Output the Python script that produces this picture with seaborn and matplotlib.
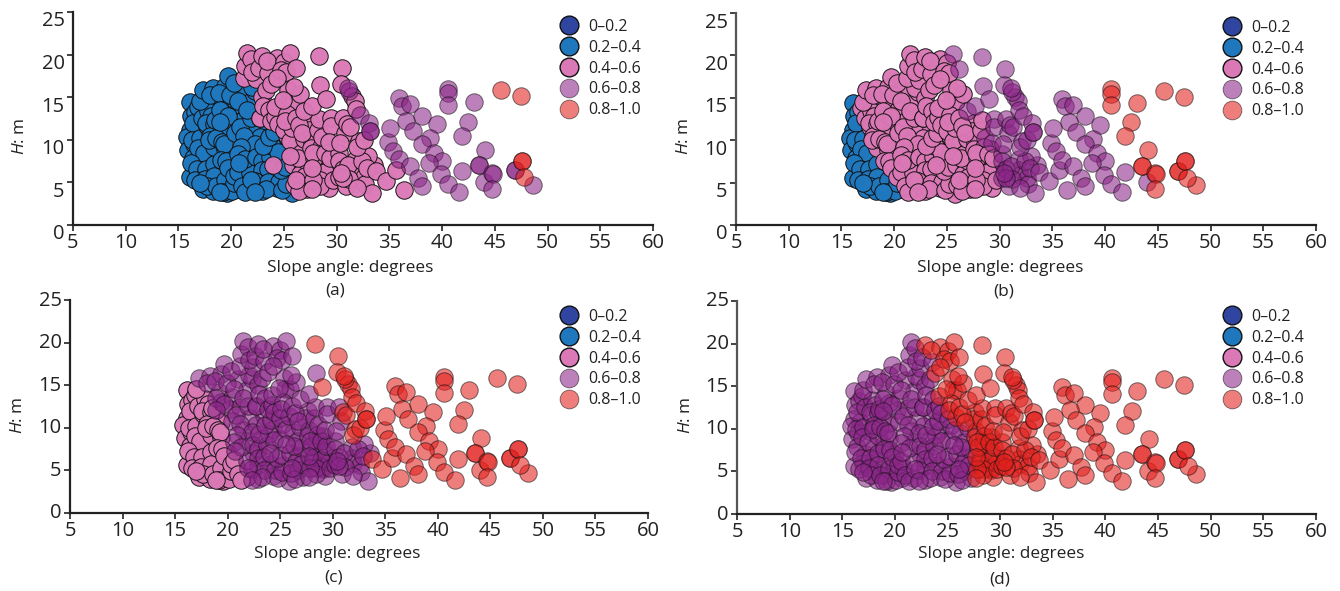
#!/usr/bin/env python3
"""Slope angle vs H scatter, four panels with a shared set of slopes."""
import matplotlib
matplotlib.use("Agg")
import matplotlib.pyplot as plt
import pandas as pd
import seaborn as sns
from matplotlib.lines import Line2D
from matplotlib.transforms import ScaledTranslation

CLASSES = ["0–0.2", "0.2–0.4", "0.4–0.6", "0.6–0.8", "0.8–1.0"]
COLORS = ["#2F459F", "#1F78BE", "#DB78B6", "#8C2689", "#E3211E"]
ALPHAS = [1.0, 1.0, 0.97, 0.58, 0.58]
PANELS = ["a", "b", "c", "d"]

# (slope, H), grouped by how they change class across panels
zone1 = [(16.1, 14.4), (16.2, 12.8), (16.1, 11.2), (16.7, 10.8), (15.8, 10.3), (15.9, 8.8), (16.5, 9.5),
         (17.5, 9.7), (16.4, 7.9), (17.2, 7.1), (18.0, 7.9), (18.9, 8.1), (16.1, 5.6), (17.0, 6.0),
         (18.0, 6.5), (18.9, 5.6), (19.9, 6.0), (18.0, 5.0), (19.0, 4.6), (17.3, 4.2), (18.3, 4.0),
         (19.6, 3.8), (20.7, 4.2), (16.6, 13.3), (16.4, 12.0), (16.3, 10.0), (17.0, 10.2), (16.9, 9.0),
         (17.4, 8.5), (16.2, 7.3), (16.8, 6.6), (17.6, 6.6), (18.4, 7.2), (16.6, 5.3), (17.5, 5.4),
         (18.4, 5.7), (17.7, 4.6), (18.6, 4.6), (19.4, 5.3), (19.2, 3.9), (20.1, 4.0), (20.3, 4.9),
         (17.0, 4.9), (18.9, 3.9)]
zone2 = [(16.9, 13.8), (17.2, 12.6), (17.8, 13.4), (18.1, 12.8), (17.7, 11.6), (18.8, 11.2), (18.4, 9.1),
         (19.4, 8.9), (20.0, 7.1), (19.4, 10.7), (20.8, 5.4), (21.8, 4.2), (17.0, 14.5), (17.6, 12.0),
         (18.4, 11.9), (18.0, 10.5), (17.9, 10.0), (18.6, 10.2), (19.1, 9.8), (19.3, 9.5), (19.0, 7.6),
         (19.5, 7.5), (19.7, 6.7), (20.3, 5.7), (20.6, 6.2), (21.0, 4.6), (21.3, 3.9), (18.5, 12.3)]
zone3 = [(17.3, 15.9), (18.3, 16.1), (19.4, 16.3), (18.0, 15.3), (19.7, 17.5), (21.0, 15.7), (19.2, 14.2),
         (20.4, 13.6), (21.8, 14.4), (20.2, 12.2), (21.2, 12.4), (22.1, 11.2), (23.5, 11.4), (20.4, 10.8),
         (21.5, 9.7), (22.7, 10.3), (24.3, 9.9), (21.8, 8.5), (23.2, 8.7), (22.4, 7.1), (21.8, 6.1),
         (22.9, 5.6), (24.0, 5.8), (25.3, 5.6), (22.9, 4.0), (24.3, 4.4), (25.8, 3.7), (25.0, 8.7),
         (22.3, 15.7), (18.8, 15.5), (19.9, 15.3), (20.3, 16.7), (20.6, 14.6), (19.4, 13.0), (18.9, 13.5),
         (19.7, 12.8), (18.9, 12.1), (20.8, 11.5), (21.9, 12.6), (21.5, 13.5), (21.2, 10.5), (22.3, 9.5),
         (20.9, 9.2), (20.6, 8.3), (21.3, 7.7), (20.7, 7.3), (22.4, 8.0), (22.9, 7.5), (23.7, 8.0),
         (23.9, 9.3), (24.4, 8.6), (23.0, 9.3), (23.6, 10.3), (24.1, 10.9), (22.9, 6.5), (23.5, 6.6),
         (22.3, 5.2), (23.5, 5.0), (24.5, 5.1), (21.9, 5.3), (23.3, 4.2), (24.8, 4.1), (25.2, 4.8),
         (22.3, 3.9), (24.7, 6.4), (25.1, 6.8), (22.0, 16.2)]
zone4 = [(24.0, 7.1), (25.9, 7.1), (21.2, 17.3), (22.7, 12.6), (22.7, 12.6), (22.4, 17.1), (22.9, 15.0),
         (21.3, 18.7), (21.5, 20.2), (25.3, 10.5), (26.2, 9.5), (26.8, 6.7), (26.5, 6.0), (27.2, 4.2),
         (26.7, 5.0), (21.9, 19.5), (22.0, 18.0), (22.6, 18.4), (23.5, 17.8), (23.3, 15.9), (23.0, 14.0),
         (23.6, 13.5), (23.8, 12.2), (24.2, 12.7), (24.4, 11.8), (25.0, 11.1), (25.6, 9.9), (26.6, 8.4),
         (27.0, 7.6), (26.3, 7.9), (26.9, 10.1), (26.0, 4.7), (26.4, 4.0), (27.0, 5.7), (25.6, 8.1),
         (26.1, 5.3)]
zone5 = [(22.9, 19.8), (24.3, 19.6), (23.4, 19.3), (25.0, 19.1), (23.8, 16.5), (25.4, 15.9), (25.5, 14.6),
         (25.9, 14.6), (24.2, 13.8), (25.3, 13.0), (25.8, 11.4), (27.6, 12.0), (27.4, 11.1), (27.7, 9.7),
         (27.6, 9.0), (29.1, 9.0), (28.5, 7.6), (28.1, 6.5), (28.1, 5.9), (28.1, 6.1), (29.2, 7.3), (29.9, 6.5),
         (29.1, 5.2), (29.1, 5.4), (29.3, 4.4), (28.4, 8.3), (29.6, 6.0), (27.9, 7.9), (24.7, 18.2),
         (25.2, 17.9), (24.3, 17.2), (26.5, 15.4), (26.0, 16.2), (24.9, 14.7), (25.1, 12.2), (26.1, 12.6),
         (26.4, 11.7), (26.7, 10.8), (28.2, 11.2), (28.3, 12.4), (28.5, 9.2), (27.8, 8.5), (28.9, 8.4),
         (28.9, 6.2), (28.4, 5.3), (28.4, 4.6), (27.8, 5.3), (27.7, 4.2), (27.7, 6.7), (29.4, 7.9), (29.7, 5.3)]
zone6 = [(28.4, 16.4), (25.6, 20.2), (26.1, 18.4), (26.9, 13.4), (27.7, 14.0), (28.6, 10.3), (30.2, 8.4),
         (30.2, 7.5), (29.5, 12.5), (29.5, 11.6), (30.8, 10.8), (30.2, 5.6), (30.9, 4.6), (31.8, 7.8),
         (31.8, 6.5), (31.9, 5.9), (32.6, 5.6), (33.5, 7.1), (33.0, 8.1), (32.7, 4.8), (33.4, 3.8),
         (29.3, 9.7), (30.3, 9.6), (30.6, 6.6), (31.1, 7.0), (31.2, 5.4), (31.9, 4.4), (32.4, 7.5),
         (32.9, 6.7), (30.6, 12.5), (30.6, 5.5), (30.4, 6.1)]
zone7 = [(28.3, 19.8), (30.5, 18.4), (30.4, 16.5), (29.0, 14.8), (31.5, 15.1), (31.7, 14.6), (31.8, 13.6),
         (31.0, 11.8), (32.1, 9.9), (31.9, 9.2), (31.3, 11.5), (33.7, 6.3), (34.7, 5.2), (35.6, 6.5),
         (36.4, 4.1), (32.6, 10.0)]
zone8 = [(31.2, 15.7), (31.1, 16.1), (32.2, 12.9), (33.1, 12.0), (33.2, 11.0), (33.2, 11.0), (34.9, 9.7),
         (35.3, 8.7), (35.9, 7.7), (35.9, 14.9), (36.2, 14.0), (37.0, 14.2), (38.1, 12.8), (36.6, 12.2),
         (35.1, 11.4), (37.2, 11.0), (39.5, 11.8), (38.9, 10.2), (38.1, 9.5), (39.2, 8.5), (40.0, 7.5),
         (38.8, 7.3), (37.0, 6.9), (37.7, 5.5), (38.1, 4.6), (39.9, 5.95), (40.6, 4.8), (41.6, 3.9),
         (41.9, 6.3), (44.0, 5.1)]
zone9 = [(40.6, 16.0), (40.6, 15.5), (40.6, 14.1), (43.0, 14.4), (42.5, 12.1), (41.9, 10.5), (44.1, 8.8),
         (43.5, 7.0), (43.5, 7.0), (44.7, 6.1), (44.8, 6.0), (44.7, 4.2), (46.9, 6.4), (46.9, 6.4), (48.6, 4.7)]
zone10 = [(45.6, 15.8), (47.5, 15.1), (47.6, 7.5), (47.6, 7.5), (47.8, 5.6)]

# class index of each zone in panels a, b, c, d
zone1_classes = [1, 1, 2, 3]
zone2_classes = [1, 2, 2, 3]
zone3_classes = [1, 2, 3, 3]
zone4_classes = [2, 2, 3, 3]
zone5_classes = [2, 2, 3, 4]
zone6_classes = [2, 3, 3, 4]
zone7_classes = [2, 3, 4, 4]
zone8_classes = [3, 3, 4, 4]
zone9_classes = [3, 4, 4, 4]
zone10_classes = [4, 4, 4, 4]

zones = [(zone1, zone1_classes), (zone2, zone2_classes), (zone3, zone3_classes), (zone4, zone4_classes),
         (zone5, zone5_classes), (zone6, zone6_classes), (zone7, zone7_classes), (zone8, zone8_classes),
         (zone9, zone9_classes), (zone10, zone10_classes)]

rows = []
for pts, cls in zones:
    for slope, h in pts:
        for panel, c in zip(PANELS, cls):
            rows.append({"panel": panel, "slope": slope, "h": h, "cls": c})
df = pd.DataFrame(rows)

W, H = 1340, 591
sns.set_theme(style="ticks")
plt.rcParams["font.family"] = ["Open Sans", "DejaVu Sans"]
plt.rcParams["mathtext.fontset"] = "custom"
plt.rcParams["mathtext.it"] = "Open Sans:italic"
plt.rcParams["mathtext.rm"] = "Open Sans"

# pixel layout per panel: left, right, bottom, top, ylabel xy, xlabel xy, letter xy, legend xy, ytick shift
layout = {
    "a": dict(box=(73, 653, 225, 12), yl=(20, 136), xl=(350, 268), tag=(335, 290), leg=(557, 19), shift=-7, sp="#222222"),
    "b": dict(box=(736, 1316, 225, 13), yl=(684, 136), xl=(1000, 268), tag=(1004, 292), leg=(1220, 20), shift=-7, sp="#555555"),
    "c": dict(box=(70, 648, 513, 300), yl=(18, 415), xl=(337, 554), tag=(334, 577), leg=(557, 309), shift=2, sp="#222222"),
    "d": dict(box=(737, 1316, 514, 301), yl=(686, 415), xl=(1001, 554), tag=(1000, 579), leg=(1220, 309), shift=2, sp="#555555"),
}

fig = plt.figure(figsize=(W / 100, H / 100), dpi=100)


def fig_xy(px, py):
    return px / W, 1 - py / H


for panel in PANELS:
    cfg = layout[panel]
    x0, x1, y0, y1 = cfg["box"]
    ax = fig.add_axes([x0 / W, 1 - y0 / H, (x1 - x0) / W, (y0 - y1) / H])
    sub = df[df["panel"] == panel]
    for i, name in enumerate(CLASSES):
        part = sub[sub["cls"] == i]
        if part.empty:
            continue
        sns.scatterplot(data=part, x="slope", y="h", color=COLORS[i], alpha=ALPHAS[i], s=158,
                        edgecolor="#111111", linewidth=0.7, legend=False, ax=ax, clip_on=False)
    ax.set_xlim(5, 60)
    ax.set_ylim(0, 25)
    ax.set_xticks(range(5, 61, 5))
    ax.set_yticks(range(0, 26, 5))
    ax.set_xlabel("")
    ax.set_ylabel("")
    ax.patch.set_alpha(0)
    sns.despine(ax=ax)
    ax.spines["bottom"].set_linewidth(1.6)
    ax.spines["bottom"].set_color("#222222")
    ax.spines["left"].set_linewidth(1.6)
    ax.spines["left"].set_color(cfg["sp"])
    ax.tick_params(axis="both", length=4, width=1.2, color="#222222", labelsize=14.5, labelcolor="#222222")
    ax.tick_params(axis="x", pad=2)
    ax.tick_params(axis="y", pad=2)
    shift = ScaledTranslation(0, cfg["shift"] / 100, fig.dpi_scale_trans)
    for lab in ax.get_yticklabels():
        lab.set_transform(lab.get_transform() + shift)

    fig.text(*fig_xy(*cfg["yl"]), r"$\mathit{H}$: m", rotation=90, fontsize=12.4, ha="center", va="center", color="#222222")
    fig.text(*fig_xy(*cfg["xl"]), "Slope angle: degrees", fontsize=12.4, ha="center", va="center", color="#222222")
    fig.text(*fig_xy(*cfg["tag"]), f"({panel})", fontsize=12.4, ha="center", va="center", color="#222222")

    handles = [Line2D([], [], linestyle="none", marker="o", markersize=13.5, markerfacecolor=COLORS[i],
                      alpha=ALPHAS[i] if i >= 3 else 1.0, markeredgecolor="#111111",
                      markeredgewidth=1.0 if i < 3 else 0.6) for i in range(5)]
    lx, ly = cfg["leg"]
    ax.legend(handles, CLASSES, loc="upper left", bbox_to_anchor=fig_xy(lx, ly), bbox_transform=fig.transFigure,
              frameon=False, fontsize=11.5, labelspacing=0.3, handletextpad=0.45, handlelength=1.5, borderpad=0,
              borderaxespad=0, labelcolor="#222222")

fig.savefig("out.png", dpi=100)
plt.close(fig)
